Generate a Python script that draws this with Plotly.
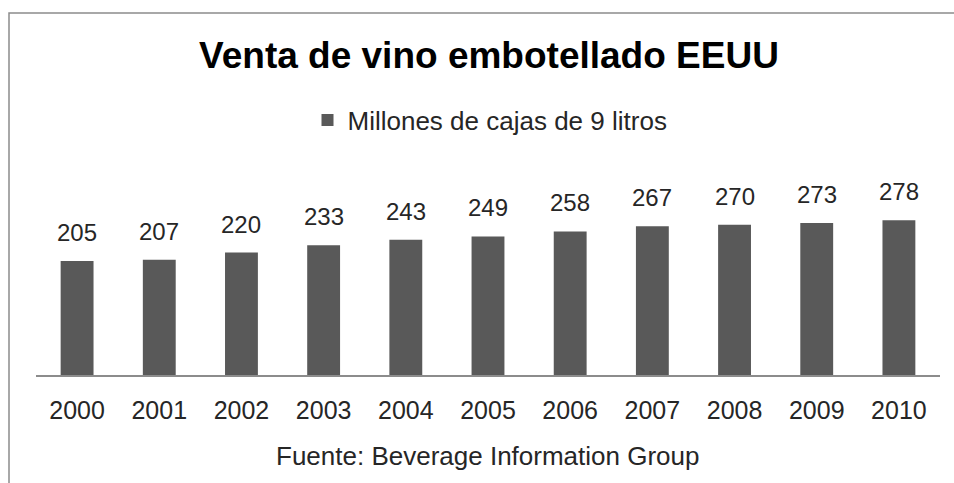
import plotly.graph_objects as go

# Bottled wine sales in the US, millions of 9-litre cases
years = ["2000", "2001", "2002", "2003", "2004", "2005",
         "2006", "2007", "2008", "2009", "2010"]
cases = [205, 207, 220, 233, 243, 249, 258, 267, 270, 273, 278]
series_name = "Millones de cajas de 9 litros"
chart_title = "Venta de vino embotellado EEUU"
source_note = "Fuente: Beverage Information Group"

W, H = 954, 483
ML, MR, MT, MB = 36, 14, 208, 108
plot_w = W - ML - MR
plot_h = H - MT - MB

BAR = "#595959"
TEXT = "#262626"
FONT = "Liberation Sans, Arial, sans-serif"


def px_to_paper_x(px):
    return (px - ML) / plot_w


def px_to_paper_y(py):
    return (H - MB - py) / plot_h


fig = go.Figure()
fig.add_trace(go.Bar(
    x=years, y=cases, name=series_name,
    marker=dict(color=BAR, line=dict(width=0)),
    showlegend=True,
))

# value labels above each bar (category axis -> positions are category indices)
for i, v in enumerate(cases):
    fig.add_annotation(
        x=i, y=v, xref="x", yref="y", text=str(v),
        showarrow=False, yanchor="bottom", yshift=13,
        font=dict(family=FONT, size=24, color=TEXT),
    )

# source line under the axis
fig.add_annotation(
    x=px_to_paper_x(487), y=px_to_paper_y(456), xref="paper", yref="paper",
    text=source_note, showarrow=False, yanchor="middle", xanchor="center",
    font=dict(family=FONT, size=26, color=TEXT),
)

# chart frame (left and top edges)
fig.add_shape(
    type="path", xref="paper", yref="paper",
    path=(f"M {px_to_paper_x(9)},{px_to_paper_y(H + 5)} "
          f"L {px_to_paper_x(9)},{px_to_paper_y(13)} "
          f"L {px_to_paper_x(W + 5)},{px_to_paper_y(13)}"),
    line=dict(color="#8c8c8c", width=1.5),
)

fig.update_layout(
    width=W, height=H,
    margin=dict(l=ML, r=MR, t=MT, b=MB),
    paper_bgcolor="white", plot_bgcolor="white",
    bargap=0.6,
    title=dict(
        text=f"<b>{chart_title}</b>", x=489 / W, xanchor="center",
        y=1 - 55 / H, yanchor="middle", yref="container",
        font=dict(family=FONT, size=37, color="#000000"),
    ),
    legend=dict(
        orientation="h", xref="container", yref="container",
        x=490 / W, xanchor="center", y=1 - 120 / H, yanchor="middle",
        font=dict(family=FONT, size=26, color=TEXT),
        bgcolor="rgba(0,0,0,0)", itemwidth=30,
    ),
    xaxis=dict(
        type="category", range=[-0.5, len(years) - 0.5],
        showline=True, linecolor="#8c8c8c", linewidth=1.5,
        ticks="", showgrid=False, ticklabelstandoff=12,
        tickfont=dict(family=FONT, size=25, color=TEXT),
    ),
    yaxis=dict(
        range=[0, 300], visible=False, showgrid=False,
    ),
)

fig.write_html("out.html")
